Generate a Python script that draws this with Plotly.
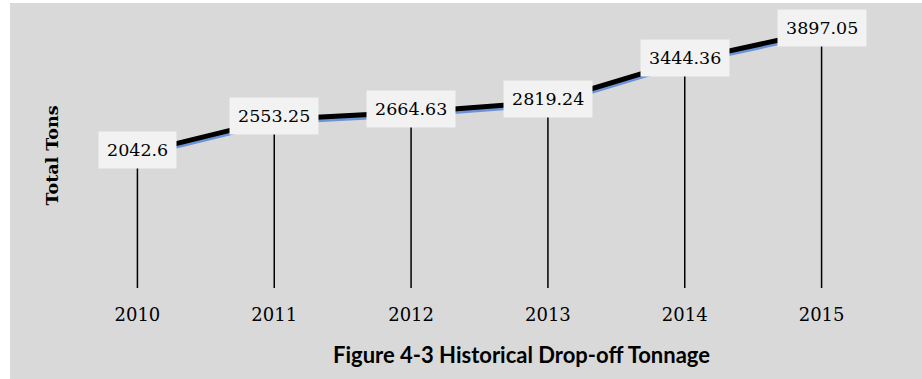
import plotly.graph_objects as go

years = ["2010", "2011", "2012", "2013", "2014", "2015"]
tons = [2042.6, 2553.25, 2664.63, 2819.24, 3444.36, 3897.05]
label_texts = ["2042.6", "2553.25", "2664.63", "2819.24", "3444.36", "3897.05"]
y_title = "Total Tons"
x_title = "Figure 4-3 Historical Drop-off Tonnage"

W, H = 922, 379
L, R, T, B = 69, 32, 24, 91
plot_w = W - L - R
plot_h = H - T - B
Y_MAX = 4000
shadow_px = 2.5
shift = shadow_px / plot_h * Y_MAX

fig = go.Figure()

# blue shadow line on base axis, shifted slightly down
fig.add_trace(go.Scatter(x=years, y=tons, mode="lines", yaxis="y",
                         line=dict(color="#6b93d6", width=5),
                         hoverinfo="skip", showlegend=False))

# drop lines from each point to the axis (true scale, overlay axis)
dx, dy = [], []
for c, v in zip(years, tons):
    dx += [c, c, None]
    dy += [0, v, None]
fig.add_trace(go.Scatter(x=dx, y=dy, mode="lines", yaxis="y2",
                         line=dict(color="black", width=1.5),
                         hoverinfo="skip", showlegend=False))

# main black line
fig.add_trace(go.Scatter(x=years, y=tons, mode="lines", yaxis="y2",
                         line=dict(color="black", width=5),
                         showlegend=False))

annotations = []
for i, (v, t) in enumerate(zip(tons, label_texts)):
    annotations.append(dict(x=i, y=v, xref="x", yref="y2", text=t,
                            showarrow=False, yshift=3,
                            font=dict(family="DejaVu Serif", size=17.5, color="black"),
                            bgcolor="#f2f2f2", borderpad=8))

annotations.append(dict(x=(521 - L) / plot_w, y=(T + plot_h - 354) / plot_h,
                        xref="paper", yref="paper", text="<b>%s</b>" % x_title,
                        showarrow=False, xanchor="center", yanchor="middle",
                        font=dict(family="Lato", size=22, color="black")))
annotations.append(dict(x=(51.5 - L) / plot_w, y=(T + plot_h - 156) / plot_h,
                        xref="paper", yref="paper", text="<b>%s</b>" % y_title,
                        showarrow=False, textangle=-90, xanchor="center", yanchor="middle",
                        font=dict(family="DejaVu Serif", size=17.5, color="black")))

fig.update_layout(
    width=W, height=H,
    margin=dict(l=L, r=R, t=T, b=B),
    paper_bgcolor="#d9d9d9",
    plot_bgcolor="#d9d9d9",
    xaxis=dict(type="category", range=[-0.5, 5.5], showgrid=False, zeroline=False,
               showline=False, ticks="", ticklabelstandoff=14,
               tickfont=dict(family="DejaVu Serif", size=18, color="black")),
    yaxis=dict(range=[shift, Y_MAX + shift], showgrid=False, zeroline=False, showline=False,
               showticklabels=False, ticks=""),
    yaxis2=dict(range=[0, Y_MAX], overlaying="y", showgrid=False,
                zeroline=False, showline=False, showticklabels=False, ticks=""),
    annotations=annotations,
    shapes=[
        dict(type="rect", xref="paper", yref="paper", layer="below",
             x0=-L / plot_w - 0.01, x1=(10 - L) / plot_w,
             y0=-B / plot_h - 0.01, y1=(T + plot_h) / plot_h + 0.01,
             fillcolor="white", line=dict(width=0)),
        dict(type="rect", xref="paper", yref="paper", layer="below",
             x0=-L / plot_w - 0.01, x1=1 + R / plot_w + 0.01,
             y0=(T + plot_h - 3) / plot_h, y1=(T + plot_h) / plot_h + 0.01,
             fillcolor="white", line=dict(width=0)),
    ],
    showlegend=False,
)

fig.write_html("out.html", config={"displayModeBar": False},
               post_script="document.body.style.margin='0';")
